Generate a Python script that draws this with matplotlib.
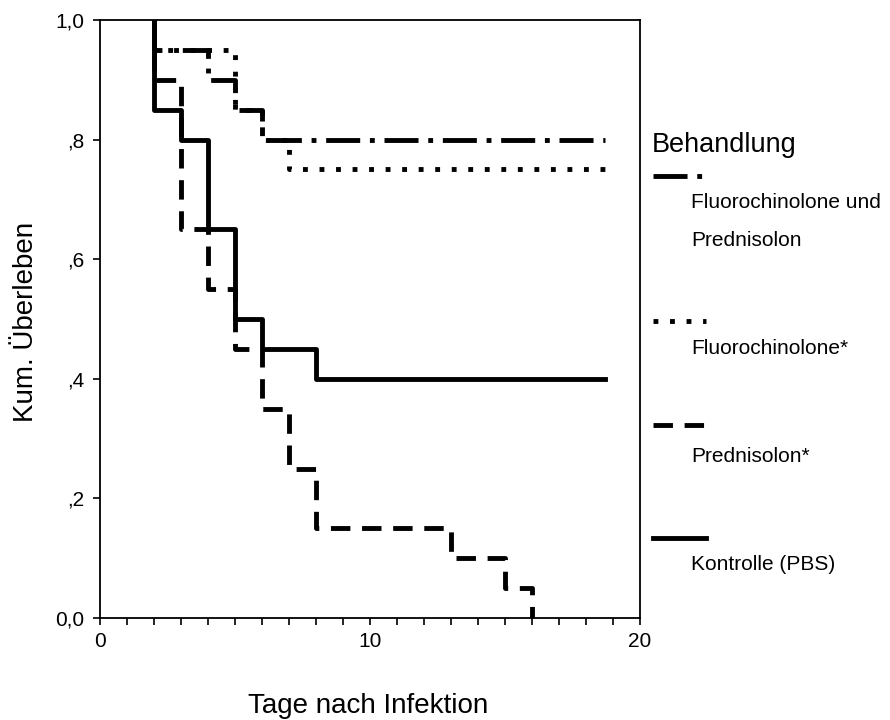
import matplotlib
matplotlib.use("Agg")
import matplotlib.pyplot as plt
from matplotlib.lines import Line2D

plt.rcParams['font.family'] = ['Liberation Sans', 'DejaVu Sans']

# Kaplan-Meier Daten (Tage, kum. Ueberleben)
t_kombi = [2, 2, 4, 5, 6, 18.7]
s_kombi = [1.0, 0.95, 0.90, 0.85, 0.80, 0.80]
t_fluoro = [2, 2, 5, 6, 7, 18.7]
s_fluoro = [1.0, 0.95, 0.85, 0.80, 0.75, 0.75]
t_pred = [2, 2, 3, 4, 5, 6, 7, 8, 13, 15, 16]
s_pred = [1.0, 0.90, 0.65, 0.55, 0.45, 0.35, 0.25, 0.15, 0.10, 0.05, 0.0]
t_kontr = [2, 2, 3, 4, 5, 6, 8, 18.7]
s_kontr = [1.0, 0.85, 0.80, 0.65, 0.50, 0.45, 0.40, 0.40]

labels = [["Fluorochinolone und", "Prednisolon"], ["Fluorochinolone*"], ["Prednisolon*"], ["Kontrolle (PBS)"]]
yticks = [0.0, 0.2, 0.4, 0.6, 0.8, 1.0]
ytick_labels = ["0,0", ",2", ",4", ",6", ",8", "1,0"]

lw = 3.5
st_kombi = (0, (7, 2, 1, 2))
st_fluoro = (0, (1, 2.4))
st_pred = (0, (4, 2.4))
st_kontr = '-'

fig = plt.figure(figsize=(8.9, 7.2), dpi=100)
ax = fig.add_axes([100/890, 1-618/720, 540/890, 598/720])

ax.step(t_fluoro, s_fluoro, where='post', color='black', lw=lw, linestyle=st_fluoro, dash_capstyle='butt')
ax.step(t_kombi, s_kombi, where='post', color='black', lw=lw, linestyle=st_kombi, dash_capstyle='butt')
ax.step(t_pred, s_pred, where='post', color='black', lw=lw, linestyle=st_pred, dash_capstyle='butt')
ax.step(t_kontr, s_kontr, where='post', color='black', lw=lw, linestyle=st_kontr)

ax.set_xlim(0, 20)
ax.set_ylim(0, 1.0)
ax.set_xticks([0, 10, 20])
ax.set_xticks(range(0, 21), minor=True)
ax.set_yticks(yticks)
ax.set_yticklabels(ytick_labels)
ax.tick_params(axis='both', which='both', direction='out', length=5, width=1.2, labelsize=15, colors='black')
ax.tick_params(axis='x', pad=5)
ax.tick_params(axis='y', pad=6)
for sp in ax.spines.values():
    sp.set_linewidth(1.3)

fig.text(368/890, 1-706/720, "Tage nach Infektion", fontsize=20, ha='center', va='center')
fig.text(26/890, 1-322/720, "Kum. Überleben", fontsize=20, ha='center', va='center', rotation=90)

# Legende rechts
fig.text(652/890, 1-145/720, "Behandlung", fontsize=19.5, ha='left', va='center')
samples = [(176, st_kombi), (321, st_fluoro), (425, st_pred), (538, st_kontr)]
text_y = [202, 348, 456, 565]
for (sy, st), ty, lab in zip(samples, text_y, labels):
    fig.add_artist(Line2D([653/890, 706/890], [1-sy/720, 1-sy/720], color='black', lw=lw,
                          linestyle=st, dash_capstyle='butt', transform=fig.transFigure))
    for k, line in enumerate(lab):
        fig.text(691/890, 1-(ty+39*k)/720, line, fontsize=15, ha='left', va='center')

fig.savefig("out.png", dpi=100)
